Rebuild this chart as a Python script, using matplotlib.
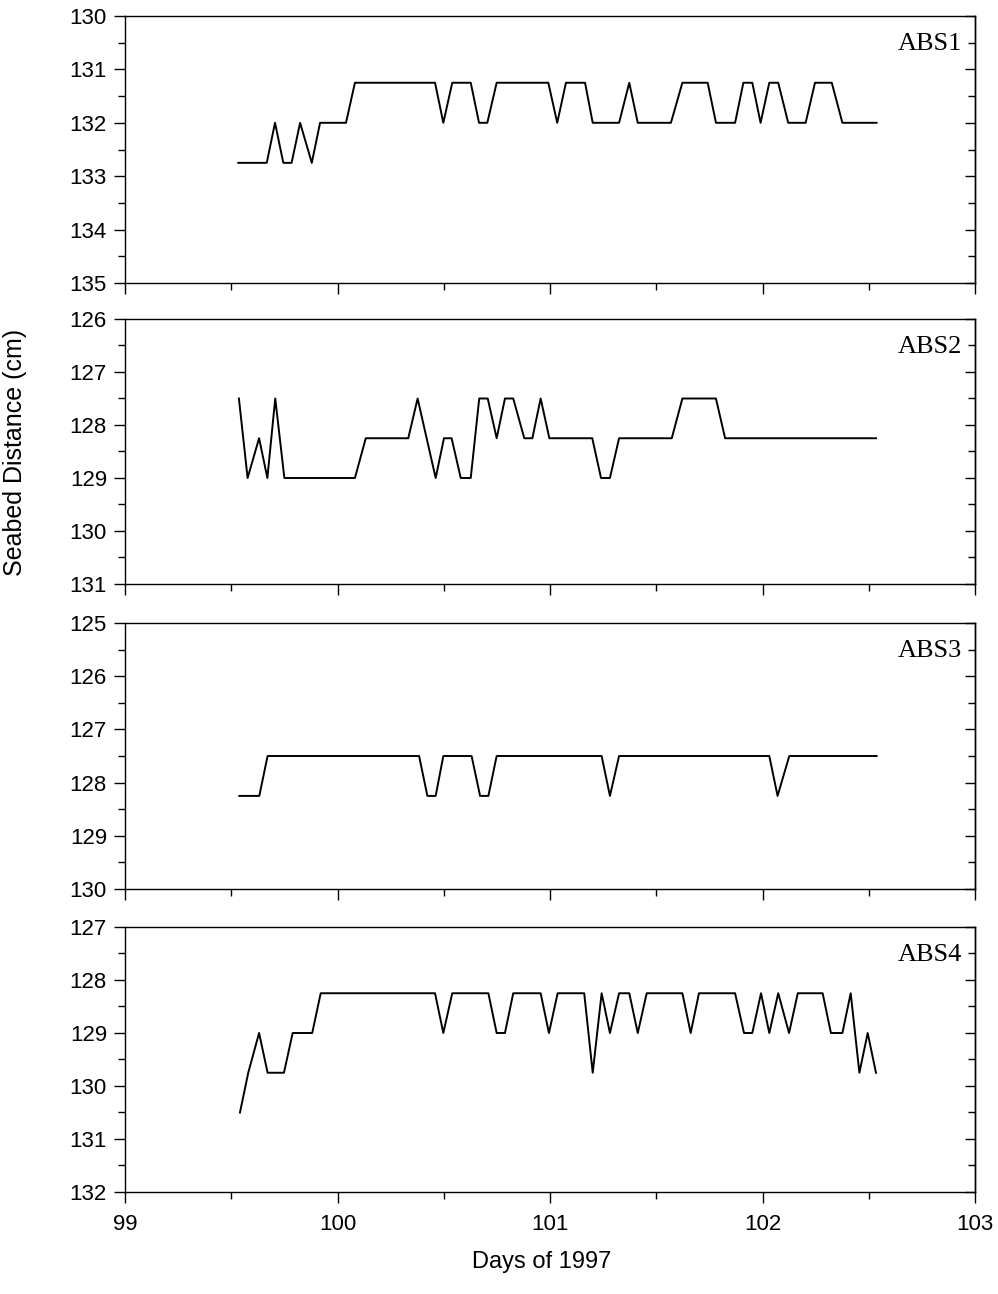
import matplotlib
matplotlib.use("Agg")
import matplotlib.pyplot as plt
from matplotlib.ticker import MultipleLocator

plt.rcParams["font.family"] = ["Liberation Sans", "DejaVu Sans"]

# Breakpoints of each acoustic backscatter record: (day of 1997, seabed distance in cm)
abs1_day = [99.533, 99.667, 99.706, 99.745, 99.784, 99.824, 99.879, 99.918, 100.040,
            100.082, 100.459, 100.498, 100.540, 100.627, 100.666, 100.705, 100.749,
            100.992, 101.034, 101.075, 101.165, 101.201, 101.325, 101.373, 101.413,
            101.569, 101.623, 101.742, 101.781, 101.871, 101.910, 101.952, 101.991,
            102.032, 102.074, 102.121, 102.203, 102.247, 102.326, 102.376, 102.537]
abs1_cm = [132.75, 132.75, 132.0, 132.75, 132.75, 132.0, 132.75, 132.0, 132.0,
           131.25, 131.25, 132.0, 131.25, 131.25, 132.0, 132.0, 131.25,
           131.25, 132.0, 131.25, 131.25, 132.0, 132.0, 131.25, 132.0,
           132.0, 131.25, 131.25, 132.0, 132.0, 131.25, 131.25, 132.0,
           131.25, 131.25, 132.0, 132.0, 131.25, 131.25, 132.0, 132.0]

abs2_day = [99.536, 99.577, 99.631, 99.670, 99.707, 99.750, 100.082, 100.133,
            100.333, 100.377, 100.462, 100.501, 100.537, 100.580, 100.627, 100.667,
            100.707, 100.749, 100.788, 100.827, 100.879, 100.917, 100.956, 100.997,
            101.199, 101.240, 101.282, 101.325, 101.573, 101.623, 101.781, 101.824,
            102.534]
abs2_cm = [127.5, 129.0, 128.25, 129.0, 127.5, 129.0, 129.0, 128.25,
           128.25, 127.5, 129.0, 128.25, 128.25, 129.0, 129.0, 127.5,
           127.5, 128.25, 127.5, 127.5, 128.25, 128.25, 127.5, 128.25,
           128.25, 129.0, 129.0, 128.25, 128.25, 127.5, 127.5, 128.25,
           128.25]

abs3_day = [99.538, 99.632, 99.671, 100.384, 100.423, 100.462, 100.498, 100.631,
            100.671, 100.710, 100.749, 101.243, 101.282, 101.325, 102.032, 102.071,
            102.126, 102.537]
abs3_cm = [128.25, 128.25, 127.5, 127.5, 128.25, 128.25, 127.5, 127.5,
           128.25, 128.25, 127.5, 127.5, 128.25, 127.5, 127.5, 128.25,
           127.5, 127.5]

abs4_day = [99.541, 99.580, 99.631, 99.671, 99.748, 99.789, 99.881, 99.921,
            100.459, 100.498, 100.540, 100.710, 100.749, 100.788, 100.827, 100.956,
            100.995, 101.036, 101.161, 101.201, 101.243, 101.282, 101.325, 101.373,
            101.413, 101.455, 101.623, 101.662, 101.701, 101.871, 101.913, 101.952,
            101.993, 102.032, 102.074, 102.125, 102.166, 102.283, 102.322, 102.376,
            102.415, 102.456, 102.495, 102.534]
abs4_cm = [130.5, 129.75, 129.0, 129.75, 129.75, 129.0, 129.0, 128.25,
           128.25, 129.0, 128.25, 128.25, 129.0, 129.0, 128.25, 128.25,
           129.0, 128.25, 128.25, 129.75, 128.25, 129.0, 128.25, 128.25,
           129.0, 128.25, 128.25, 129.0, 128.25, 128.25, 129.0, 129.0,
           128.25, 129.0, 128.25, 129.0, 128.25, 128.25, 129.0, 129.0,
           128.25, 129.75, 129.0, 129.75]

names = ["ABS1", "ABS2", "ABS3", "ABS4"]
days = [abs1_day, abs2_day, abs3_day, abs4_day]
dists = [abs1_cm, abs2_cm, abs3_cm, abs4_cm]
y_ranges = [(130, 135), (126, 131), (125, 130), (127, 132)]
x_range = (99, 103)

W, H = 998, 1294
fig = plt.figure(figsize=(W / 100, H / 100), dpi=100)

# panel boxes in pixels: (top, bottom)
boxes = [(16, 283), (319, 584), (623, 889), (927, 1192)]
left_px, right_px = 125, 975

for i, (name, d, c, yr, (top, bot)) in enumerate(zip(names, days, dists, y_ranges, boxes)):
    ax = fig.add_axes([left_px / W, 1 - bot / H, (right_px - left_px) / W, (bot - top) / H])
    ax.plot(d, c, color="black", lw=1.4)
    ax.set_xlim(*x_range)
    ax.set_ylim(yr[1], yr[0])
    ax.yaxis.set_major_locator(MultipleLocator(1))
    ax.yaxis.set_minor_locator(MultipleLocator(0.5))
    ax.xaxis.set_major_locator(MultipleLocator(1))
    ax.xaxis.set_minor_locator(MultipleLocator(0.5))
    for s in ax.spines.values():
        s.set_linewidth(1.0)
    ax.tick_params(axis="y", which="major", direction="out", length=8, width=1.0,
                   labelsize=16, pad=5, right=False)
    ax.tick_params(axis="y", which="minor", direction="out", length=5, width=1.0, right=False)
    ax.tick_params(axis="x", which="major", direction="out", length=8, width=1.0,
                   labelsize=16, pad=8, top=False)
    ax.tick_params(axis="x", which="minor", direction="out", length=5, width=1.0, top=False)
    if i < 3:
        ax.tick_params(axis="x", labelbottom=False)

    # inward ticks on the right-hand edge
    sec = ax.secondary_yaxis("right")
    sec.yaxis.set_major_locator(MultipleLocator(1))
    sec.yaxis.set_minor_locator(MultipleLocator(0.5))
    sec.tick_params(which="major", direction="in", length=7, width=1.0, labelright=False)
    sec.tick_params(which="minor", direction="in", length=5, width=1.0, labelright=False)
    sec.spines["right"].set_linewidth(1.0)

    ax.text(0.985, 0.935, name, transform=ax.transAxes, ha="right", va="top",
            fontsize=19, family=["Liberation Serif", "DejaVu Serif"])

fig.text(542 / W, 1 - 1262 / H, "Days of 1997", ha="center", va="center", fontsize=17)
fig.text(15 / W, 1 - 452 / H, "Seabed Distance (cm)", ha="center", va="center",
         rotation=90, fontsize=18)

fig.savefig("out.png", dpi=100)
